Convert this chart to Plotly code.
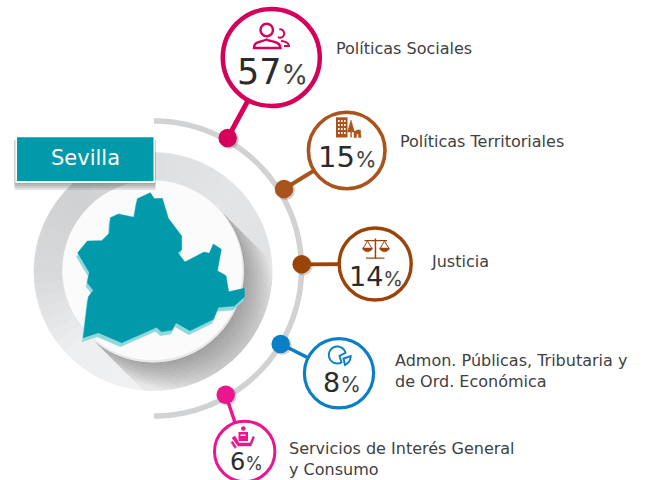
import numpy as np
import plotly.graph_objects as go

# ---------- data ----------
province = "Sevilla"
categories = ["Políticas Sociales", "Políticas Territoriales", "Justicia",
              "Admon. Públicas, Tributaria y<br>de Ord. Económica",
              "Servicios de Interés General<br>y Consumo"]
values = [57, 15, 14, 8, 6]
colors = ["#d6005b", "#a9541d", "#9a4409", "#0a7fc7", "#e9168f"]

# ---------- layout of the infographic (pixels) ----------
dot_x = [227.7, 284, 301.7, 280.7, 225.7]
dot_y = [138, 189, 264.3, 344, 394.7]
ring_x = [271.3, 346.7, 375.2, 339, 244.7]
ring_y = [57.5, 150.5, 264, 373.3, 451.5]
ring_r = [48.5, 38.3, 36, 34.6, 30.2]
ring_w = [4.5, 3.6, 3.4, 3.2, 3.0]
num_size = [35, 29, 27, 27, 24]
pct_size = [27, 22, 20, 21, 18]
num_x = [272.5, 347.3, 375.5, 342, 246]
num_y = [72, 157, 276, 382, 461.5]
label_x = [334, 398, 429, 393, 287]
label_y = [48, 141, 261, 370.5, 459]
LABEL_FONT = "DejaVu Sans"

CX, CY = 153, 271.5
shapes = []


def poly(xs, ys, close=True):
    d = "M" + " L".join(f"{x:.2f},{y:.2f}" for x, y in zip(xs, ys))
    return d + (" Z" if close else "")


def fill(path, color):
    shapes.append(dict(type="path", path=path, fillcolor=color, layer="below",
                       line=dict(color=color, width=0.5)))


def stroke(path, color, w):
    shapes.append(dict(type="path", path=path, line=dict(color=color, width=w),
                       layer="below"))


def disc(x, y, r, color, line=None, w=0):
    shapes.append(dict(type="circle", x0=x - r, x1=x + r, y0=y - r, y1=y + r, layer="below",
                       fillcolor=color, line=dict(color=line or color, width=w)))


def rect(x0, y0, x1, y1, color):
    shapes.append(dict(type="rect", x0=x0, x1=x1, y0=y0, y1=y1, fillcolor=color,
                       line=dict(width=0), layer="below"))


def arc(cx, cy, r, a0, a1, n=60):
    t = np.radians(np.linspace(a0, a1, n))
    return cx + r * np.cos(t), cy + r * np.sin(t)


# outer thin arc
ax, ay = arc(154, 268.5, 147.5, -90, 90, 120)
stroke(poly(ax, ay, False), "#d1d2d4", 5.5)

# grey disc as angular gradient
stops_a = [0, 45, 90, 135, 180, 225, 270, 315, 360]  # screen angle, clockwise from east
stops_g = [226, 232, 240, 238, 216, 208, 222, 228, 226]
for a in range(0, 360, 6):
    g = int(np.interp(a + 3, stops_a, stops_g))
    x, y = arc(CX, CY, 119, a, a + 6.5, 6)
    fill(poly([CX, *x], [CY, *y]), f"rgb({g},{g + 1},{g + 2})")

# long cast shadow of the white disc
nr, nu = 14, 30
rr = np.linspace(91, 119, nr + 1)
uu = np.linspace(-1, 1, nu + 1)
for i in range(nr):
    for j in range(nu):
        rm, us = (rr[i] + rr[i + 1]) / 2, (uu[j] + uu[j + 1]) / 2
        t = (rm - 91) / 28
        g = int(min(232, 158 + 40 * t + 12 * us ** 2 + (40 if us > 0 else 26) * t * us ** 2))
        pts = []
        for r, u in [(rr[i], uu[j]), (rr[i + 1], uu[j]), (rr[i + 1], uu[j + 1]), (rr[i], uu[j + 1])]:
            th = np.pi / 4 + u * np.arcsin(min(1, 90.5 / r))
            pts.append((CX + r * np.cos(th), CY + r * np.sin(th)))
        fill(poly(*zip(*pts)), f"rgb({g},{g},{g + 1})")

# white disc
disc(CX, CY, 91, "#e8e8ea")
disc(CX - 0.5, CY - 1.2, 90, "#fbfbfb")

# province silhouette (zoom coordinates / 3)
map_zx = [233, 262, 305, 328, 331, 355, 402, 412, 451, 463, 487, 505, 545, 545, 533, 555, 612, 628,
          640, 664, 652, 678, 686, 733, 733, 703, 655, 640, 570, 528, 516, 484, 470, 365, 295, 250,
          265, 280, 262, 268]
map_zy = [428, 393, 392, 370, 323, 312, 322, 266, 248, 266, 265, 325, 378, 420, 428, 456, 426, 430,
          402, 418, 482, 497, 545, 535, 560, 588, 592, 628, 662, 638, 660, 665, 652, 698, 668, 683,
          560, 541, 518, 487]
mx = np.array(map_zx) / 3
my = np.array(map_zy) / 3 + 110
fill(poly(mx - 1.2, my + 4), "#8fd8dd")
fill(poly(mx, my), "#009aaa")

# label box
for k in range(4):
    rect(14.5, 140, 155.5, 184 + 2 * k, "rgba(90,90,90,0.16)")
rect(15.3, 136, 155, 183, "#ffffff")
rect(17, 137.3, 153.5, 181, "#009aaa")

# connectors and rings
for i in range(5):
    stroke(poly([dot_x[i], ring_x[i]], [dot_y[i], ring_y[i]], False), colors[i], ring_w[i] + 0.4)
    disc(ring_x[i], ring_y[i], ring_r[i], "#ffffff", colors[i], ring_w[i])

# ---------- icons ----------
c = colors[0]
x, y = arc(266.7, 30, 6.2, 0, 360, 30); stroke(poly(x, y), c, 2.4)
stroke("M254,48 C254,41 262,42 266.5,39.5 C271,42 280,41 280.5,48 Z", c, 2.4)
x, y = arc(280, 33.5, 4.2, -100, 120, 20); stroke(poly(x, y, False), c, 1.9)
stroke("M281,41 C285,41 289,43 289,46 L284,46", c, 1.9)

c = colors[1]
rect(336, 117.3, 347.5, 137.5, c)
for wx in (338, 341, 344):
    for wy in (120, 124, 128, 132):
        rect(wx, wy, wx + 1.6, wy + 2, "#ffffff")
fill("M351,120 L354.5,132 L347.5,132 Z", c)
rect(350.4, 132, 351.8, 137.5, c)
fill("M354,137.5 L354,132 L357,130 L360.5,130 L361,137.5 L358.5,137.5 L358.5,134 L356.5,134 L356.5,137.5 Z", c)

c = colors[2]
rect(374.7, 238.5, 376.2, 258.5, c)
rect(366, 257.5, 384.5, 258.7, c)
rect(364.5, 240, 387, 241.2, c)
for px in (367.5, 384.5):
    stroke(f"M{px - 4.2},248 L{px},241 L{px + 4.2},248", c, 1)
    fill(f"M{px - 5},248 L{px + 5},248 C{px + 4},253 {px - 4},253 {px - 5},248 Z", c)

c = colors[3]
x, y = arc(337.3, 355, 8.5, 60, 345, 30)
stroke(poly([339.5, *x], [356, *y]), c, 1.9)
stroke("M343.5,358.5 L350.7,356 C350.8,360 348.5,363 345,365 Z", c, 1.9)

c = colors[4]
disc(243.3, 428.5, 2.3, c)
rect(238.5, 432, 248, 441, c)
rect(240.5, 434.5, 245.5, 436, "#ffffff")
fill("M232,438 L235,436 L239,443 L250,443 L253,436 L254.5,437.5 L251,446 L238,446 Z", c)
fill("M232.5,441 L236.5,447 L235,448.5 L231,442.5 Z", c)

# ---------- figure ----------
fig = go.Figure()
fig.add_trace(go.Scatter(x=[v + 1.5 for v in dot_x], y=[v + 1.5 for v in dot_y], mode="markers",
                         marker=dict(size=19, color="rgba(70,70,70,0.25)", line=dict(width=0)),
                         hoverinfo="skip"))
fig.add_trace(go.Scatter(x=dot_x, y=dot_y, mode="markers", text=categories,
                         marker=dict(size=18.5, color=colors, line=dict(width=0))))

ann = [dict(x=85, y=157.5, text=province, showarrow=False, xanchor="center", yanchor="middle",
            font=dict(family=LABEL_FONT, size=21, color="#ffffff"))]
for i, (name, v) in enumerate(zip(categories, values)):
    ann.append(dict(x=num_x[i], y=num_y[i], showarrow=False, xanchor="center", yanchor="middle",
                    text=f'{v}<span style="font-size:{pct_size[i]}px;font-family:Inter;color:#444444">%</span>',
                    font=dict(family="DejaVu Sans", size=num_size[i], color="#2b2b2d")))
    ann.append(dict(x=label_x[i], y=label_y[i], text=name, showarrow=False, xanchor="left", yanchor="middle",
                    align="left", font=dict(family=LABEL_FONT, size=16, color="#414042")))

fig.update_layout(width=649, height=480, margin=dict(l=0, r=0, t=0, b=0), showlegend=False,
                  plot_bgcolor="#ffffff", paper_bgcolor="#ffffff", shapes=shapes, annotations=ann,
                  xaxis=dict(range=[0, 649], visible=False, fixedrange=True),
                  yaxis=dict(range=[480, 0], visible=False, fixedrange=True))
fig.write_html("out.html", config=dict(displayModeBar=False),
               post_script="document.body.style.margin='0';document.body.style.overflow='hidden';")
